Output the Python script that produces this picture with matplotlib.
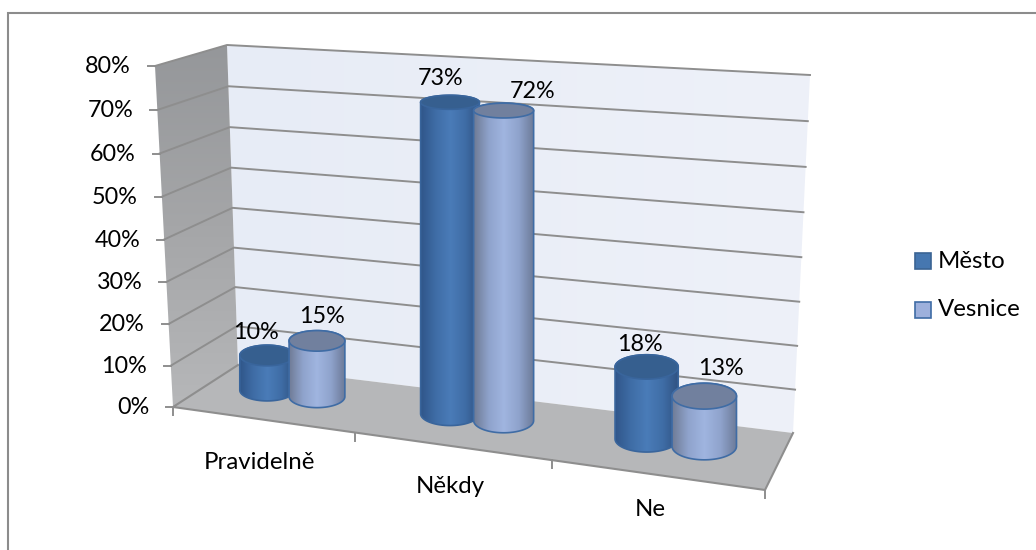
import numpy as np
import matplotlib
matplotlib.use('Agg')
import matplotlib.pyplot as plt
from matplotlib.patches import Polygon, Rectangle

plt.rcParams['font.family'] = ['Lato', 'DejaVu Sans']

categories = ['Pravidelně', 'Někdy', 'Ne']
mesto = [10, 73, 18]
vesnice = [15, 72, 13]
y_ticks = [0, 10, 20, 30, 40, 50, 60, 70, 80]

Y_MAX = 80


def homography(src, dst):
    # 4 bodove zobrazeni roviny
    rows = []
    rhs = []
    for (x, y), (u, v) in zip(src, dst):
        rows.append([x, y, 1, 0, 0, 0, -u * x, -u * y])
        rows.append([0, 0, 0, x, y, 1, -v * x, -v * y])
        rhs += [u, v]
    h = np.linalg.solve(np.array(rows, float), np.array(rhs, float))
    return np.append(h, 1).reshape(3, 3)


corners = [(0, 0), (3, 0), (3, 1), (0, 1)]
H_floor = homography(corners, [(173, 407), (765, 490), (793, 433), (238, 365)])
H_top = homography(corners, [(155, 66), (791, 109), (810, 75), (227, 45)])


def project(cat, depth, value):
    # prevod kategorie / hloubky / hodnoty na pixely
    u = cat + 0.025 * cat * (3 - cat)
    p = np.array([u, depth, 1.0])
    a = H_floor @ p
    b = H_top @ p
    a = a[:2] / a[2]
    b = b[:2] / b[2]
    t = value / Y_MAX
    t = t / (1 + 0.036 * (1 - t))
    return a + (b - a) * t


fig = plt.figure(figsize=(10.36, 5.5), dpi=100)
ax = fig.add_axes([0, 0, 1, 1])
ax.set_xlim(0, 1036)
ax.set_ylim(550, 0)
ax.axis('off')

# ramecek grafu
ax.add_patch(Rectangle((8, 13), 1100, 600, fc='white', ec='#8c8c8c', lw=1.5))


def gradient_poly(pts, colors, horizontal=True, zorder=1):
    # plocha s prechodem barev orezana na polygon
    pts = np.array(pts)
    rgb = np.array([matplotlib.colors.to_rgb(c) for c in colors])
    t = np.linspace(0, 1, 256)
    xp = np.linspace(0, 1, len(colors))
    grad = np.stack([np.interp(t, xp, rgb[:, i]) for i in range(3)], axis=-1)
    grad = grad[np.newaxis, :, :] if horizontal else grad[:, np.newaxis, :]
    im = ax.imshow(grad, extent=(pts[:, 0].min(), pts[:, 0].max(), pts[:, 1].max(), pts[:, 1].min()),
                   aspect='auto', zorder=zorder, interpolation='bilinear')
    im.set_clip_path(Polygon(pts, transform=ax.transData))


# steny a podlaha
back_wall = [project(0, 1, 0), project(3, 1, 0), project(3, 1, Y_MAX), project(0, 1, Y_MAX)]
side_wall = [project(0, 0, 0), project(0, 1, 0), project(0, 1, Y_MAX), project(0, 0, Y_MAX)]
floor = [project(0, 0, 0), project(3, 0, 0), project(3, 1, 0), project(0, 1, 0)]
gradient_poly(back_wall, ['#e7ecf6', '#eef1f9'])
gradient_poly(side_wall, ['#95979a', '#a5a6a8', '#b6b7b9'], horizontal=False)
ax.add_patch(Polygon(floor, fc='#b6b7b9', ec='none', zorder=1.1))
ax.set_xlim(0, 1036)
ax.set_ylim(550, 0)

GRID = '#8e8e8e'
LABEL_SIZE = 16.8
NAME_SIZE = 17.3
for v in y_ticks:
    a, b, c = project(0, 0, v), project(0, 1, v), project(3, 1, v)
    if v > 0:
        ax.plot([a[0], b[0], c[0]], [a[1], b[1], c[1]], color=GRID, lw=1.4, zorder=1.2)
    ax.plot([a[0] - 7, a[0]], [a[1], a[1]], color=GRID, lw=1.4, zorder=1.2)
    ax.text(a[0] - 24, a[1] + 0.5, f'{v}%', ha='right', va='center', fontsize=LABEL_SIZE, color='black')

# hrany podlahy a os x
edge = [project(0, 1, 0), project(0, 0, 0), project(3, 0, 0), project(3, 1, 0)]
ax.plot(*zip(*edge), color=GRID, lw=1.5, zorder=1.3)
for i in range(4):
    p = project(i, 0, 0)
    ax.plot([p[0], p[0]], [p[1], p[1] + 8], color=GRID, lw=1.4, zorder=1.3)
name_shift = [(-3, 43), (-2, 40), (-6, 35)]
for i, name in enumerate(categories):
    p = project(i + 0.5, 0, 0)
    ax.text(p[0] + name_shift[i][0], p[1] + name_shift[i][1], name, ha='center', va='center',
            fontsize=NAME_SIZE, color='black')

# valce
DEPTH_TOP = 0.44
DEPTH_BASE = 0.58
RX = 0.155
RD = 0.25
OFFSET = 0.14
CENTER = 0.51
BLUE_BODY = ['#30568a', '#3f6da6', '#4a7cb8', '#3f6da6', '#2f5180']
BLUE_TOP = '#365f8f'
BLUE_EDGE = '#39659c'
LIGHT_BODY = ['#6f7b95', '#8fa3cc', '#a0b5e0', '#8fa3cc', '#6c7a98']
LIGHT_TOP = '#71809e'
LIGHT_EDGE = '#3f6ca5'


def ellipse_pts(cx, cy, a, b, start, stop, n=60):
    t = np.linspace(start, stop, n)
    return np.column_stack([cx + a * np.cos(t), cy + b * np.sin(t)])


def cylinder(cat, value, body, top, edge_col, zorder):
    x0 = project(cat, DEPTH_TOP, 0)[0]
    y_base = project(cat, DEPTH_BASE, 0)[1]
    y_head = project(cat, DEPTH_TOP, value)[1]
    a = (project(cat + RX, DEPTH_TOP, 0)[0] - project(cat - RX, DEPTH_TOP, 0)[0]) / 2
    b0 = abs(project(cat, DEPTH_BASE + RD, 0)[1] - project(cat, DEPTH_BASE - RD, 0)[1]) / 2
    b1 = abs(project(cat, DEPTH_TOP + RD, value)[1] - project(cat, DEPTH_TOP - RD, value)[1]) / 2
    # valec stoji svisle nad stredem podstavy
    outline = np.vstack([
        ellipse_pts(x0, y_base, a, b0, 0, np.pi),
        ellipse_pts(x0, y_head, a, b1, np.pi, 2 * np.pi),
    ])
    gradient_poly(outline, body, zorder=zorder)
    ax.add_patch(Polygon(outline, fc='none', ec=edge_col, lw=1.2, zorder=zorder + 0.01))
    lid = ellipse_pts(x0, y_head, a, b1, 0, 2 * np.pi)
    ax.add_patch(Polygon(lid, fc=top, ec=edge_col, lw=1.2, zorder=zorder + 0.02))
    ax.set_xlim(0, 1036)
    ax.set_ylim(550, 0)
    return x0, y_head


# posun popisku nad valci
label_shift_m = [(-11, -23), (-9, -24), (-7, -22)]
label_shift_v = [(5, -24), (29, -19), (17, -28)]

for i in range(len(categories)):
    x, y = cylinder(i + CENTER - OFFSET, mesto[i], BLUE_BODY, BLUE_TOP, BLUE_EDGE, 2 + i)
    ax.text(x + label_shift_m[i][0], y + label_shift_m[i][1], f'{mesto[i]}%', ha='center', va='center',
            fontsize=LABEL_SIZE, color='black', zorder=10)
    x, y = cylinder(i + CENTER + OFFSET, vesnice[i], LIGHT_BODY, LIGHT_TOP, LIGHT_EDGE, 2.5 + i)
    ax.text(x + label_shift_v[i][0], y + label_shift_v[i][1], f'{vesnice[i]}%', ha='center', va='center',
            fontsize=LABEL_SIZE, color='black', zorder=10)

# legenda
ax.add_patch(Rectangle((915, 253), 16, 16, fc='#4677b0', ec='#3b6494', lw=1.2, zorder=5))
ax.add_patch(Rectangle((915, 302), 16, 16, fc='#9db0dc', ec='#3f6ca5', lw=1.2, zorder=5))
ax.text(938, 261, 'Město', ha='left', va='center', fontsize=NAME_SIZE, color='black')
ax.text(938, 310, 'Vesnice', ha='left', va='center', fontsize=NAME_SIZE, color='black')

fig.savefig('out.png', dpi=100)
